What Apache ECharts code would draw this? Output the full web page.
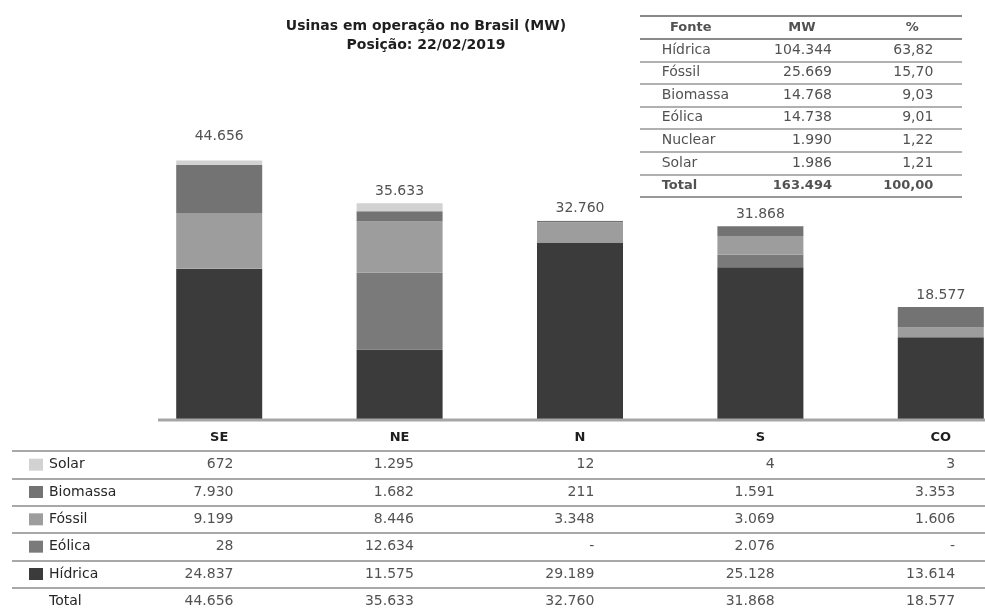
<!DOCTYPE html>
<html>
<head>
<meta charset="utf-8">
<script src="https://cdn.jsdelivr.net/npm/echarts@6/dist/echarts.min.js"></script>
<style>
html,body{margin:0;padding:0;background:#fff;}
#chart{width:985px;height:610px;}
</style>
</head>
<body>
<div id="chart"></div>
<script>
// ---- Data ----
const categories = ['SE', 'NE', 'N', 'S', 'CO'];
const hidrica  = [24837, 11575, 29189, 25128, 13614];
const eolica   = [28, 12634, null, 2076, null];
const fossil   = [9199, 8446, 3348, 3069, 1606];
const biomassa = [7930, 1682, 211, 1591, 3353];
const solar    = [672, 1295, 12, 4, 3];
const totals   = [44656, 35633, 32760, 31868, 18577];

const tableRows = ['Solar', 'Biomassa', 'Fóssil', 'Eólica', 'Hídrica', 'Total'];

const fontes    = ['Hídrica', 'Fóssil', 'Biomassa', 'Eólica', 'Nuclear', 'Solar', 'Total'];
const fonteMW   = [104344, 25669, 14768, 14738, 1990, 1986, 163494];
const fontePct  = [63.82, 15.70, 9.03, 9.01, 1.22, 1.21, 100.00];
const summaryHeader = ['Fonte', 'MW', '%'];

// ---- Helpers ----
const FONT = 'DejaVu Sans';
const TXT = '#262626';
function fmt(v) {
  if (v === null || v === undefined) return '-';
  return String(v).replace(/\B(?=(\d{3})+(?!\d))/g, '.');
}
function fmtPct(v) { return v.toFixed(2).replace('.', ','); }

const colors = {
  'Hídrica': '#3b3b3b',
  'Eólica': '#7a7a7a',
  'Fóssil': '#9d9d9d',
  'Biomassa': '#737373',
  'Solar': '#d2d2d2'
};
const seriesDefs = [
  ['Hídrica', hidrica],
  ['Eólica', eolica],
  ['Fóssil', fossil],
  ['Biomassa', biomassa],
  ['Solar', solar]
];
const rowValues = {
  'Solar': solar, 'Biomassa': biomassa, 'Fóssil': fossil,
  'Eólica': eolica, 'Hídrica': hidrica, 'Total': totals
};

// bottom data table cells
const tableCells = [];
tableRows.forEach(r => {
  categories.forEach((c, i) => {
    tableCells.push({ value: [i, r], txt: fmt(rowValues[r][i]) });
  });
});

// summary table cells
const colOffsets = { name: [-32, 0], mw: [31, 0], pct: [25, 0] };
const summaryCells = [];
summaryHeader.forEach((h, c) => {
  summaryCells.push({
    value: [c, 0], txt: h,
    label: { align: 'center', offset: [[-3, 0], [1, 0], [4, 0]][c], fontWeight: 'bold', fontSize: 13 }
  });
});
fontes.forEach((f, r) => {
  const bold = f === 'Total' ? 'bold' : 'normal';
  const fs = f === 'Total' ? 13 : 14;
  summaryCells.push({ value: [0, r + 1], txt: f, label: { align: 'left', offset: colOffsets.name, fontWeight: bold, fontSize: fs } });
  summaryCells.push({ value: [1, r + 1], txt: fmt(fonteMW[r]), label: { align: 'right', offset: colOffsets.mw, fontWeight: bold, fontSize: fs } });
  summaryCells.push({ value: [2, r + 1], txt: fmtPct(fontePct[r]), label: { align: 'right', offset: colOffsets.pct, fontWeight: bold, fontSize: fs } });
});

const rich = {
  t: { fontFamily: FONT, fontSize: 14, color: TXT, padding: [0, 0, 0, 6] },
  g: { width: 14, height: 12 }
};
tableRows.forEach((r, i) => {
  if (colors[r]) rich['s' + i] = { width: 14, height: 12, backgroundColor: colors[r] };
});

// ---- Chart ----
const chart = echarts.init(document.getElementById('chart'), null, { renderer: 'canvas' });

// value-axis mapping for the bottom table so that index i sits under bar i
const tblGridLeft = 12, tblGridWidth = 973, firstCenter = 219.5, band = 180.4;
const tblMin = -(firstCenter - tblGridLeft) / band;
const tblMax = tblMin + tblGridWidth / band;

const option = {
  animation: false,
  backgroundColor: '#ffffff',
  textStyle: { fontFamily: FONT },
  title: {
    text: 'Usinas em operação no Brasil (MW)\nPosição: 22/02/2019',
    left: 421, top: 12, textAlign: 'center',
    textStyle: { fontFamily: FONT, fontSize: 14, fontWeight: 'bold', color: '#1e1e1e', lineHeight: 19 }
  },
  graphic: [
    {
      type: 'line', z: 10,
      shape: { x1: 158, y1: 420, x2: 985, y2: 420 },
      style: { stroke: '#a6a6a6', lineWidth: 3 }
    }
  ],
  grid: [
    { left: 129, width: 902, top: 116, height: 304, outerBoundsMode: 'none', containLabel: false },
    { left: tblGridLeft, width: tblGridWidth, top: 451, height: 164, outerBoundsMode: 'none', containLabel: false },
    { left: 640, width: 322, top: 16, height: 181, outerBoundsMode: 'none', containLabel: false }
  ],
  xAxis: [
    {
      gridIndex: 0, type: 'category', data: categories,
      axisLine: { show: false },
      axisTick: { show: false },
      axisLabel: { margin: 11, fontFamily: FONT, fontSize: 13, fontWeight: 'bold', color: '#1e1e1e', interval: 0 },
      splitLine: { show: false }
    },
    {
      gridIndex: 1, type: 'value', min: tblMin, max: tblMax, show: false
    },
    {
      gridIndex: 2, type: 'category', data: summaryHeader, show: false
    }
  ],
  yAxis: [
    { gridIndex: 0, type: 'value', min: 0, max: 50000, show: false },
    {
      gridIndex: 1, type: 'category', data: tableRows, inverse: true,
      axisLine: { show: false }, axisTick: { show: false },
      axisLabel: {
        inside: true, margin: 17, interval: 0,
        formatter: function (v) {
          const i = tableRows.indexOf(v);
          return (rich['s' + i] ? '{s' + i + '|}' : '{g|}') + '{t|' + v + '}';
        },
        rich: rich
      },
      splitLine: { show: true, interval: 0, lineStyle: { color: '#a8a8a8', width: 2 } }
    },
    {
      gridIndex: 2, type: 'category', data: [0, 1, 2, 3, 4, 5, 6, 7], inverse: true,
      axisLine: { show: false }, axisTick: { show: false }, axisLabel: { show: false },
      splitLine: {
        show: true, interval: 0,
        lineStyle: { width: 2, color: ['#8a8a8a', '#8a8a8a', '#b0b0b0', '#b0b0b0', '#b0b0b0', '#b0b0b0', '#b0b0b0', '#b0b0b0', '#999999'] }
      }
    }
  ],
  series: [
    ...seriesDefs.map(([name, data]) => ({
      name: name, type: 'bar', stack: 'total', xAxisIndex: 0, yAxisIndex: 0,
      barWidth: 86, data: data,
      itemStyle: { color: colors[name] },
      emphasis: { disabled: true }
    })),
    {
      name: 'Total', type: 'scatter', xAxisIndex: 0, yAxisIndex: 0,
      data: totals, symbolSize: 0,
      label: {
        show: true, position: 'top', distance: 5,
        fontFamily: FONT, fontSize: 14, color: TXT,
        formatter: p => fmt(p.value)
      }
    },
    {
      name: 'Tabela', type: 'scatter', xAxisIndex: 1, yAxisIndex: 1,
      data: tableCells, symbolSize: 0,
      label: {
        show: true, position: 'inside', align: 'right', offset: [14, 0],
        fontFamily: FONT, fontSize: 14, color: TXT,
        formatter: p => p.data.txt
      }
    },
    {
      name: 'Resumo', type: 'scatter', xAxisIndex: 2, yAxisIndex: 2,
      data: summaryCells, symbolSize: 0,
      label: {
        show: true, position: 'inside',
        fontFamily: FONT, fontSize: 14, color: TXT,
        formatter: p => p.data.txt
      }
    }
  ]
};
chart.setOption(option);
</script>
</body>
</html>
